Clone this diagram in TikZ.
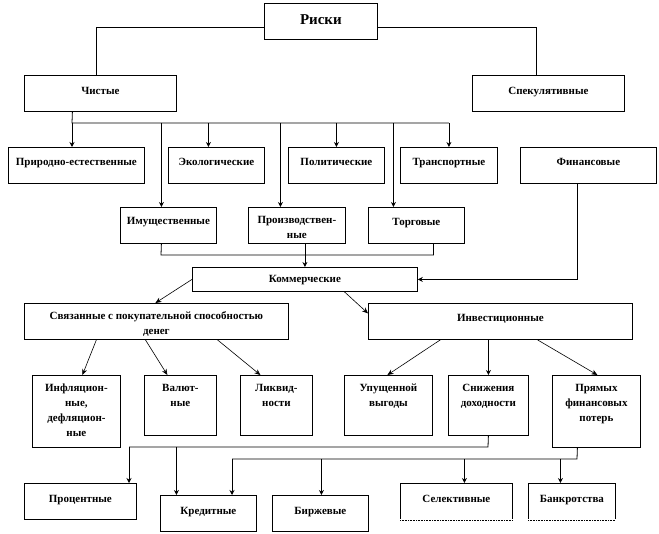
\documentclass[tikz,border=0pt]{standalone}
\usepackage{fontspec}
\setmainfont{Liberation Serif}
\usetikzlibrary{arrows.meta}
\tikzset{
  box/.style={draw, line width=0.8pt, inner sep=0pt},
  lbl/.style={inner sep=0pt, align=center, font=\bfseries\fontsize{11}{15}\selectfont},
  conn/.style={line width=0.8pt},
  arr/.style={conn, -{Stealth[length=5pt,width=5pt]}},
  darr/.style={line width=0.6pt, -{Stealth[length=6pt,width=5pt]}},
  halfdot/.style={line width=0.6pt, dash pattern=on 0.8pt off 0.8pt}
}
\newcommand{\bx}[7][9.5]{%
  \node[box, minimum width=#5pt, minimum height=#6pt, anchor=north west] (#2) at (#3,#4) {};
  \node[lbl, anchor=north] (#2-t) at ([yshift=-#1pt]#2.north) {\rule{0pt}{9pt}#7};}
\begin{document}
\begin{tikzpicture}[x=1pt,y=-1pt]
\useasboundingbox (0,0) rectangle (659,534);
\fill[white] (0,0) rectangle (659,534);

% top
\node[box, minimum width=113pt, minimum height=36pt, anchor=north west] (riski) at (264,3) {};
\node[inner sep=0pt, font=\bfseries\fontsize{15}{18}\selectfont] (riski-t) at ([yshift=2pt]riski.center) {Риски};

\bx[10]{chist}{24}{75}{152}{36}{Чистые}
\bx[10]{spek}{472}{75}{152}{36}{Спекулятивные}

\bx{prir}{8}{147}{136}{36}{Природно-естественные}
\bx{ekol}{168}{147}{96}{36}{Экологические}
\bx{polit}{288}{147}{96}{36}{Политические}
\bx{trans}{400}{147}{97}{36}{Транспортные}
\bx{fin}{520}{147}{136}{36}{Финансовые}

\bx[8]{imush}{120}{207}{96}{36}{Имущественные}
\bx[7.5]{proizv}{248}{207}{97}{36}{Производствен-\\ные}
\bx[9]{torg}{368}{207}{96}{36}{Торговые}

\node[box, minimum width=225pt, minimum height=24pt, anchor=north west] (komm) at (192,267) {};
\node[lbl, anchor=base] (komm-t) at ([yshift=-3.5pt]komm.center) {Коммерческие};

\bx[7.5]{svyaz}{24}{303}{264}{36}{Связанные с покупательной способностью\\денег}
\bx[9]{invest}{368}{303}{264}{36}{Инвестиционные}

\bx[7]{infl}{32}{375}{88}{72}{Инфляцион-\\ные,\\дефляцион-\\ные}
\bx[7.5]{val}{144}{375}{72}{60}{Валют-\\ные}
\bx[7.5]{likv}{240}{375}{72}{60}{Ликвид-\\ности}
\bx[7.5]{upush}{344}{375}{88}{60}{Упущенной\\выгоды}
\bx[7.5]{snizh}{448}{375}{80}{60}{Снижения\\доходности}
\bx[7.5]{pryam}{552}{375}{88}{72}{Прямых\\финансовых\\потерь}

\bx[10]{proc}{24}{483}{112}{36}{Процентные}
\bx[10]{kred}{160}{495}{96}{36}{Кредитные}
\bx[10]{birzh}{272}{495}{96}{36}{Биржевые}
\bx[10]{selek}{400}{483}{112}{36}{Селективные}
\bx[10]{bankr}{528}{483}{87}{36}{Банкротства}
\draw[white, line width=1.4pt] (selek.south west) -- (selek.south east);
\draw[halfdot] (selek.south west) -- (selek.south east);
\draw[white, line width=1.4pt] (bankr.south west) -- (bankr.south east);
\draw[halfdot] (bankr.south west) -- (bankr.south east);

% connectors from Риски
\draw[conn] ([yshift=-6pt]riski.west) -| ([xshift=-4pt]chist.north);
\draw[conn] ([yshift=-6pt]riski.east) -| ([xshift=-12pt]spek.north);

% bus under Чистые
\coordinate (b1L) at (72,123);
\draw[conn] ([xshift=-28pt]chist.south) -- (b1L) -- (b1L -| trans.north);
\draw[arr] (b1L) -- (b1L |- prir.north);
\draw[arr] ([xshift=-8pt]ekol.north |- b1L) -- ([xshift=-8pt]ekol.north);
\draw[arr] (polit.north |- b1L) -- (polit.north);
\draw[arr] (trans.north |- b1L) -- (trans.north);
\draw[arr] ([xshift=-7pt]imush.north |- b1L) -- ([xshift=-7pt]imush.north);
\draw[arr] ([xshift=-16.5pt]proizv.north |- b1L) -- ([xshift=-16.5pt]proizv.north);
\draw[arr] ([xshift=-23pt]torg.north |- b1L) -- ([xshift=-23pt]torg.north);

% bus to Коммерческие
\coordinate (b2L) at (161,255);
\draw[conn] ([xshift=-7pt]imush.south) -- (b2L) -| ([xshift=17pt]torg.south);
\draw[arr] (proizv.south -| komm.north) -- (komm.north);
\draw[arr] ([xshift=-11pt]fin.south) |- (komm.east);

% from Коммерческие
\draw[darr] (komm.west) -- ([xshift=-1pt]svyaz.north);
\draw[darr] ([xshift=39.5pt]komm.south) -- ([yshift=8pt]invest.west);

% from Связанные
\draw[darr] ([xshift=-60pt]svyaz.south) -- ([xshift=6pt]infl.north);
\draw[darr] ([xshift=-11pt]svyaz.south) -- ([xshift=-13pt]val.north);
\draw[darr] ([xshift=61pt]svyaz.south) -- ([xshift=-16pt]likv.north);

% from Инвестиционные
\draw[darr] ([xshift=-60pt]invest.south) -- ([xshift=-1pt]upush.north);
\draw[arr] ([xshift=-12pt]invest.south) -- (snizh.north);
\draw[darr] ([xshift=37pt]invest.south) -- ([xshift=1pt]pryam.north);

% bus from Снижения доходности
\coordinate (b3R) at (488,447);
\coordinate (b3L) at (129,447);
\draw[conn] (snizh.south) -- (b3R) -- (b3L);
\draw[arr] (b3L) -- (b3L |- proc.north);
\draw[arr] ([xshift=-32pt]kred.north |- b3L) -- ([xshift=-32pt]kred.north);

% bus from Прямых финансовых потерь
\coordinate (b4R) at (577,459);
\coordinate (b4L) at (232,459);
\draw[conn] ([xshift=-19pt]pryam.south) -- (b4R) -- (b4L);
\draw[arr] (b4L) -- (b4L |- kred.north);
\draw[arr] ([xshift=1pt]birzh.north |- b4L) -- ([xshift=1pt]birzh.north);
\draw[arr] ([xshift=8pt]selek.north |- b4L) -- ([xshift=8pt]selek.north);
\draw[arr] ([xshift=-11.5pt]bankr.north |- b4L) -- ([xshift=-11.5pt]bankr.north);
\end{tikzpicture}
\end{document}
